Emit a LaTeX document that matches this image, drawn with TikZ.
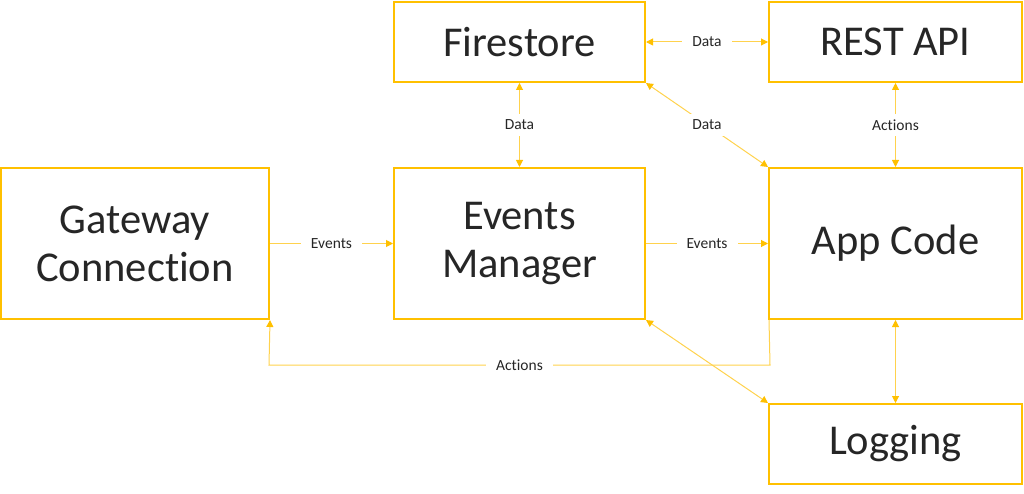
\documentclass[tikz,border=0pt]{standalone}
\usepackage{fontspec}
\setmainfont{Carlito}[Ligatures={NoCommon,NoRare}]
\usetikzlibrary{arrows.meta}
\definecolor{gold}{HTML}{FFC000}
\definecolor{lgold}{HTML}{FFD24D}
\definecolor{txt}{HTML}{262626}
\begin{document}
\begin{tikzpicture}[x=1pt,y=-1pt,
  box/.style={draw=gold,line width=2,fill=white,text=txt,align=center,
    font=\fontsize{42.5}{48}\selectfont,inner sep=0},
  conn/.style={draw=lgold,line width=1,
    {Triangle[length=7,width=7,fill=gold,color=gold]}-{Triangle[length=7,width=7,fill=gold,color=gold]}},
  oneway/.style={draw=lgold,line width=1,-{Triangle[length=7,width=7,fill=gold,color=gold]}},
  lbl/.style={fill=white,text=txt,font=\fontsize{15.5}{18}\selectfont,inner xsep=10,inner ysep=6}]
\useasboundingbox (0,0) rectangle (1024,494);
\node[box,minimum width=268,minimum height=151] (gw) at (135,243.5) {Gateway\\Connection};
\node[box,minimum width=251,minimum height=151] (em) at (519.5,243.5) {Events\\Manager};
\node[box,minimum width=253,minimum height=151] (app) at (895.5,243.5) {App Code};
\node[box,minimum width=251,minimum height=80] (fs) at (519.5,42) {Firestore};
\node[box,minimum width=253,minimum height=80] (rest) at (895.5,42) {REST API};
\node[box,minimum width=253,minimum height=80] (log) at (895.5,444) {Logging};
\coordinate (bend1) at (770,365);
\coordinate (bend2) at (269,365);
% connectors
\draw[conn] (fs.east) -- node[lbl]{Data} (rest.west);
\draw[conn] (fs.south) -- node[lbl]{Data} (em.north);
\draw[conn] (rest.south) -- node[lbl]{Actions} (app.north);
\draw[conn] (fs.south east) -- node[lbl]{Data} (app.north west);
\draw[oneway] (gw.east) -- node[lbl]{Events} (em.west);
\draw[oneway] (em.east) -- node[lbl]{Events} (app.west);
\draw[oneway] ([xshift=1]app.south west) -- (bend1) -- node[lbl]{Actions} (bend2) -- (gw.south east);
\draw[conn] (em.south east) -- (log.north west);
\draw[conn] (app.south) -- (log.north);
\end{tikzpicture}
\end{document}
